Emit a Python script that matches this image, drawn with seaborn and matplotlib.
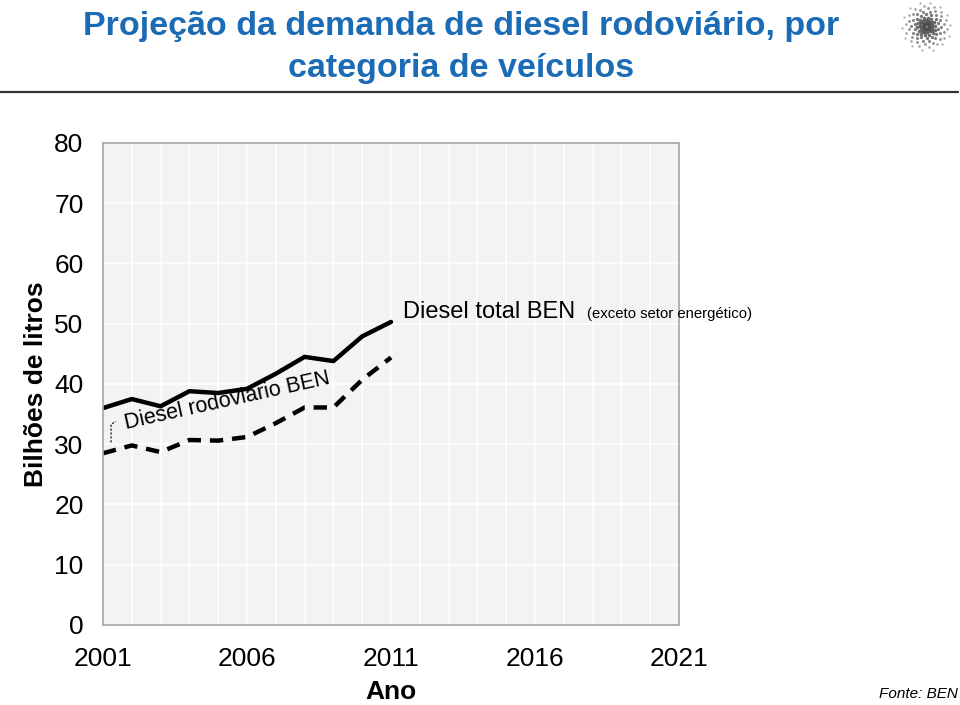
import numpy as np
import pandas as pd
import matplotlib
matplotlib.use("Agg")
import matplotlib.pyplot as plt
import seaborn as sns

# data
years = list(range(2001, 2012))
diesel_total = [36.0, 37.5, 36.3, 38.8, 38.5, 39.2, 41.7, 44.5, 43.8, 47.9, 50.3]
diesel_rodoviario = [28.5, 29.8, 28.7, 30.7, 30.6, 31.2, 33.5, 36.1, 36.1, 40.7, 44.4]
y_ticks = [0, 10, 20, 30, 40, 50, 60, 70, 80]
x_ticks = [2001, 2006, 2011, 2016, 2021]

df = pd.DataFrame({"Ano": years, "total": diesel_total, "rodoviario": diesel_rodoviario})

sns.set_theme(style="white")
plt.rcParams["font.family"] = ["Liberation Sans", "DejaVu Sans"]
plt.rcParams["text.color"] = "black"
plt.rcParams["axes.labelcolor"] = "black"

fig = plt.figure(figsize=(9.6, 7.05), dpi=100)
ax = fig.add_axes([0.1073, 0.1135, 0.6, 0.6837])
ax.set_facecolor("#f3f3f3")

# grid: white lines every year / every 10
for yr in range(2002, 2021):
    ax.axvline(yr, color="white", lw=1.2, zorder=0)
for yv in y_ticks[1:-1]:
    ax.axhline(yv, color="white", lw=1.2, zorder=0)

sns.lineplot(data=df, x="Ano", y="total", ax=ax, color="black", lw=3.2)
sns.lineplot(data=df, x="Ano", y="rodoviario", ax=ax, color="black", lw=3.2,
             linestyle=(0, (3, 2)))

ax.set_xlim(2001, 2021)
ax.set_ylim(0, 80)
ax.set_xticks(x_ticks)
ax.set_xticks(range(2001, 2022), minor=True)
ax.set_yticks(y_ticks)
ax.tick_params(axis="both", which="both", direction="out", color="#999999",
               length=8, width=1, labelsize=19, labelcolor="black")
ax.tick_params(axis="y", pad=6)
ax.tick_params(axis="x", pad=8)
for s in ax.spines.values():
    s.set_color("#a6a6a6")
    s.set_linewidth(1.2)

ax.set_xlabel("Ano", fontsize=19, fontweight="bold")
ax.xaxis.set_label_coords(0.5, -0.115)
ax.set_ylabel("Bilhões de litros", fontsize=19, fontweight="bold")
ax.yaxis.set_label_coords(-0.095, 0.5)

# annotations
ax.text(2011.4, 51.0, "Diesel total BEN", fontsize=17, va="baseline", ha="left")
ax.text(2017.8, 51.0, "(exceto setor energético)", fontsize=10.7, va="baseline", ha="left")
ax.text(2001.8, 32.5, "Diesel rodoviario BEN", fontsize=15.5, rotation=12.5,
        rotation_mode="anchor", va="baseline", ha="left")
ax.plot([2001.28, 2001.28, 2001.45], [30.3, 33.3, 33.8], color="black", lw=0.8,
        linestyle=(0, (2, 1.5)), clip_on=False)

# title
fig.text(0.48, 0.985, "Projeção da demanda de diesel rodoviário, por\ncategoria de veículos",
         ha="center", va="top", fontsize=24.5, fontweight="bold", color="#1b6bb5",
         linespacing=1.48)
fig.add_artist(plt.Line2D([0.0, 0.998], [0.869, 0.869], color="#333333", lw=1.6))
fig.text(0.998, 0.005, "Fonte: BEN", ha="right", va="bottom", fontsize=11, style="italic")

# logo: dotted spiral
lax = fig.add_axes([0.935, 0.925, 0.06, 0.075])
lax.set_xlim(-1.1, 1.1)
lax.set_ylim(-1.1, 1.1)
lax.set_aspect("equal")
lax.axis("off")
for arm in range(14):
    base = arm * 2 * np.pi / 14
    for k in range(1, 9):
        r = k / 8
        th = base + 1.4 * r
        lax.scatter(r * np.cos(th), r * np.sin(th), s=6 * (1.3 - r) + 1,
                    color=str(0.25 + 0.45 * r), lw=0)

fig.savefig("out.png", dpi=100)
